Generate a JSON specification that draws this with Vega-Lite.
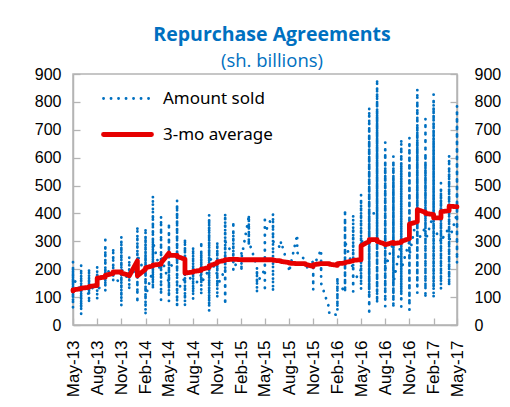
{
"$schema": "https://vega.github.io/schema/vega-lite/v6.json",
"width": 384, "height": 251,
"autosize": {"type": "pad"},
"padding": {"left": 34, "top": 25, "right": 0, "bottom": 0},
"background": "white",
"title": {"text": "Repurchase Agreements", "subtitle": "(sh. billions)", "frame": "group", "anchor": "middle", "dx": 7, "offset": -5, "color": "#0070C0", "subtitleColor": "#0070C0", "font": "Open Sans", "subtitleFont": "Open Sans", "fontSize": 19.5, "subtitleFontSize": 18.5, "fontWeight": "bold", "subtitlePadding": 6},
"config": {
 "view": {"stroke": "#b4b4b4", "strokeWidth": 1.5},
 "axis": {"labelFont": "Liberation Sans", "labelFontSize": 16, "labelColor": "#000000", "tickColor": "#b4b4b4", "domainColor": "#b4b4b4", "tickWidth": 1.3, "domainWidth": 1.5, "grid": false, "title": null, "tickSize": -7, "labelOverlap": false},
 "axisX": {"labelOverlap": false, "labelFontSize": 17, "labelBound": false}
},
"datasets": {
"sold": [
{"date":"2013-05-01","value":150},{"date":"2013-05-01","value":228},{"date":"2013-05-01","value":60},{"date":"2013-05-01","value":200},{"date":"2013-05-01","value":90},{"date":"2013-05-01","value":170},
{"date":"2013-06-01","value":120},{"date":"2013-06-01","value":216},{"date":"2013-06-01","value":36},{"date":"2013-06-01","value":180},{"date":"2013-06-01","value":60},{"date":"2013-06-01","value":140},
{"date":"2013-07-01","value":110},{"date":"2013-07-01","value":204},{"date":"2013-07-01","value":78},{"date":"2013-07-01","value":180},{"date":"2013-07-01","value":120},
{"date":"2013-08-01","value":150},{"date":"2013-08-01","value":212},{"date":"2013-08-01","value":90},{"date":"2013-08-01","value":190},{"date":"2013-08-01","value":130},
{"date":"2013-09-01","value":140},{"date":"2013-09-01","value":318},{"date":"2013-09-01","value":120},{"date":"2013-09-01","value":280},{"date":"2013-09-01","value":150},{"date":"2013-09-01","value":200},
{"date":"2013-10-01","value":180},{"date":"2013-10-01","value":276},{"date":"2013-10-01","value":156},{"date":"2013-10-01","value":250},{"date":"2013-10-01","value":170},
{"date":"2013-11-01","value":150},{"date":"2013-11-01","value":318},{"date":"2013-11-01","value":66},{"date":"2013-11-01","value":300},{"date":"2013-11-01","value":90},{"date":"2013-11-01","value":200},
{"date":"2013-12-01","value":160},{"date":"2013-12-01","value":246},{"date":"2013-12-01","value":126},{"date":"2013-12-01","value":220},{"date":"2013-12-01","value":180},
{"date":"2014-01-01","value":200},{"date":"2014-01-01","value":354},{"date":"2014-01-01","value":78},{"date":"2014-01-01","value":320},{"date":"2014-01-01","value":110},{"date":"2014-01-01","value":250},
{"date":"2014-02-01","value":180},{"date":"2014-02-01","value":348},{"date":"2014-02-01","value":36},{"date":"2014-02-01","value":320},{"date":"2014-02-01","value":60},{"date":"2014-02-01","value":250},{"date":"2014-02-01","value":100},
{"date":"2014-03-01","value":200},{"date":"2014-03-01","value":464},{"date":"2014-03-01","value":126},{"date":"2014-03-01","value":400},{"date":"2014-03-01","value":150},{"date":"2014-03-01","value":300},
{"date":"2014-04-01","value":180},{"date":"2014-04-01","value":390},{"date":"2014-04-01","value":90},{"date":"2014-04-01","value":360},{"date":"2014-04-01","value":110},{"date":"2014-04-01","value":250},
{"date":"2014-05-01","value":150},{"date":"2014-05-01","value":366},{"date":"2014-05-01","value":84},{"date":"2014-05-01","value":330},{"date":"2014-05-01","value":120},{"date":"2014-05-01","value":220},
{"date":"2014-06-01","value":200},{"date":"2014-06-01","value":448},{"date":"2014-06-01","value":60},{"date":"2014-06-01","value":430},{"date":"2014-06-01","value":80},{"date":"2014-06-01","value":300},{"date":"2014-06-01","value":120},
{"date":"2014-07-01","value":170},{"date":"2014-07-01","value":312},{"date":"2014-07-01","value":66},{"date":"2014-07-01","value":290},{"date":"2014-07-01","value":90},{"date":"2014-07-01","value":200},
{"date":"2014-08-01","value":150},{"date":"2014-08-01","value":282},{"date":"2014-08-01","value":90},{"date":"2014-08-01","value":260},{"date":"2014-08-01","value":130},
{"date":"2014-09-01","value":180},{"date":"2014-09-01","value":300},{"date":"2014-09-01","value":108},{"date":"2014-09-01","value":260},{"date":"2014-09-01","value":150},
{"date":"2014-10-01","value":200},{"date":"2014-10-01","value":396},{"date":"2014-10-01","value":48},{"date":"2014-10-01","value":380},{"date":"2014-10-01","value":70},{"date":"2014-10-01","value":250},
{"date":"2014-11-01","value":180},{"date":"2014-11-01","value":300},{"date":"2014-11-01","value":96},{"date":"2014-11-01","value":280},{"date":"2014-11-01","value":140},
{"date":"2014-12-01","value":200},{"date":"2014-12-01","value":402},{"date":"2014-12-01","value":72},{"date":"2014-12-01","value":380},{"date":"2014-12-01","value":100},{"date":"2014-12-01","value":300},
{"date":"2015-01-01","value":250},{"date":"2015-01-01","value":372},{"date":"2015-01-01","value":186},{"date":"2015-01-01","value":340},{"date":"2015-01-01","value":220},
{"date":"2015-02-01","value":205},{"date":"2015-02-01","value":259},{"date":"2015-02-01","value":198},{"date":"2015-02-01","value":240},
{"date":"2015-03-01","value":390},{"date":"2015-03-01","value":282},{"date":"2015-03-01","value":396},{"date":"2015-03-01","value":300},
{"date":"2015-04-01","value":210},{"date":"2015-04-01","value":115},{"date":"2015-04-01","value":200},{"date":"2015-04-01","value":150},
{"date":"2015-05-01","value":200},{"date":"2015-05-01","value":390},{"date":"2015-05-01","value":120},{"date":"2015-05-01","value":330},
{"date":"2015-06-01","value":396},{"date":"2015-06-01","value":120},{"date":"2015-06-01","value":380},{"date":"2015-06-01","value":300},
{"date":"2015-07-01","value":276},{"date":"2015-07-01","value":300},
{"date":"2015-08-01","value":200},{"date":"2015-08-01","value":190},
{"date":"2015-09-01","value":324},{"date":"2015-09-01","value":288},{"date":"2015-09-01","value":260},
{"date":"2015-10-01","value":234},{"date":"2015-10-01","value":200},
{"date":"2015-11-01","value":228},{"date":"2015-11-01","value":126},{"date":"2015-11-01","value":208},
{"date":"2015-12-01","value":270},{"date":"2015-12-01","value":187},{"date":"2015-12-01","value":240},{"date":"2015-12-01","value":150},
{"date":"2016-01-01","value":60},{"date":"2016-01-01","value":40},
{"date":"2016-02-01","value":36},{"date":"2016-02-01","value":174},{"date":"2016-02-01","value":60},{"date":"2016-02-01","value":150},
{"date":"2016-03-01","value":120},{"date":"2016-03-01","value":414},{"date":"2016-03-01","value":114},{"date":"2016-03-01","value":380},{"date":"2016-03-01","value":150},{"date":"2016-03-01","value":300},
{"date":"2016-04-01","value":200},{"date":"2016-04-01","value":396},{"date":"2016-04-01","value":120},{"date":"2016-04-01","value":350},{"date":"2016-04-01","value":150},
{"date":"2016-05-01","value":200},{"date":"2016-05-01","value":468},{"date":"2016-05-01","value":126},{"date":"2016-05-01","value":440},{"date":"2016-05-01","value":150},{"date":"2016-05-01","value":300},
{"date":"2016-06-01","value":300},{"date":"2016-06-01","value":780},{"date":"2016-06-01","value":36},{"date":"2016-06-01","value":750},{"date":"2016-06-01","value":66},{"date":"2016-06-01","value":700},{"date":"2016-06-01","value":100},{"date":"2016-06-01","value":680},{"date":"2016-06-01","value":130},{"date":"2016-06-01","value":400},
{"date":"2016-07-01","value":400},{"date":"2016-07-01","value":882},{"date":"2016-07-01","value":79},{"date":"2016-07-01","value":850},{"date":"2016-07-01","value":90},{"date":"2016-07-01","value":800},{"date":"2016-07-01","value":120},{"date":"2016-07-01","value":760},{"date":"2016-07-01","value":300},
{"date":"2016-08-01","value":300},{"date":"2016-08-01","value":655},{"date":"2016-08-01","value":66},{"date":"2016-08-01","value":620},{"date":"2016-08-01","value":100},{"date":"2016-08-01","value":580},{"date":"2016-08-01","value":130},{"date":"2016-08-01","value":560},{"date":"2016-08-01","value":200},
{"date":"2016-09-01","value":300},{"date":"2016-09-01","value":606},{"date":"2016-09-01","value":60},{"date":"2016-09-01","value":580},{"date":"2016-09-01","value":90},{"date":"2016-09-01","value":550},{"date":"2016-09-01","value":110},{"date":"2016-09-01","value":520},{"date":"2016-09-01","value":150},
{"date":"2016-10-01","value":300},{"date":"2016-10-01","value":666},{"date":"2016-10-01","value":66},{"date":"2016-10-01","value":640},{"date":"2016-10-01","value":90},{"date":"2016-10-01","value":600},{"date":"2016-10-01","value":120},{"date":"2016-10-01","value":560},{"date":"2016-10-01","value":200},
{"date":"2016-11-01","value":300},{"date":"2016-11-01","value":672},{"date":"2016-11-01","value":42},{"date":"2016-11-01","value":650},{"date":"2016-11-01","value":70},{"date":"2016-11-01","value":620},{"date":"2016-11-01","value":100},{"date":"2016-11-01","value":580},{"date":"2016-11-01","value":250},
{"date":"2016-12-01","value":400},{"date":"2016-12-01","value":846},{"date":"2016-12-01","value":114},{"date":"2016-12-01","value":800},{"date":"2016-12-01","value":140},{"date":"2016-12-01","value":700},{"date":"2016-12-01","value":160},{"date":"2016-12-01","value":650},{"date":"2016-12-01","value":300},
{"date":"2017-01-01","value":350},{"date":"2017-01-01","value":740},{"date":"2017-01-01","value":400},{"date":"2017-01-01","value":612},{"date":"2017-01-01","value":96},{"date":"2017-01-01","value":580},{"date":"2017-01-01","value":130},{"date":"2017-01-01","value":550},{"date":"2017-01-01","value":300},
{"date":"2017-02-01","value":400},{"date":"2017-02-01","value":828},{"date":"2017-02-01","value":96},{"date":"2017-02-01","value":790},{"date":"2017-02-01","value":130},{"date":"2017-02-01","value":700},{"date":"2017-02-01","value":150},{"date":"2017-02-01","value":650},{"date":"2017-02-01","value":350},
{"date":"2017-03-01","value":300},{"date":"2017-03-01","value":510},{"date":"2017-03-01","value":126},{"date":"2017-03-01","value":480},{"date":"2017-03-01","value":150},{"date":"2017-03-01","value":450},{"date":"2017-03-01","value":300},
{"date":"2017-04-01","value":350},{"date":"2017-04-01","value":618},{"date":"2017-04-01","value":138},{"date":"2017-04-01","value":600},{"date":"2017-04-01","value":160},{"date":"2017-04-01","value":550},{"date":"2017-04-01","value":300},
{"date":"2017-05-01","value":400},{"date":"2017-05-01","value":786},{"date":"2017-05-01","value":222},{"date":"2017-05-01","value":750},{"date":"2017-05-01","value":250},{"date":"2017-05-01","value":500}
],
"avg": [
{"date":"2013-05-01","value":122},{"date":"2013-05-01","value":126},
{"date":"2013-06-01","value":130},{"date":"2013-06-01","value":132},
{"date":"2013-07-01","value":135},{"date":"2013-07-01","value":138},
{"date":"2013-08-01","value":142},{"date":"2013-08-01","value":168},
{"date":"2013-09-01","value":172},{"date":"2013-09-01","value":178},
{"date":"2013-10-01","value":185},{"date":"2013-10-01","value":190},
{"date":"2013-11-01","value":190},{"date":"2013-11-01","value":186},
{"date":"2013-12-01","value":178},{"date":"2013-12-01","value":176},
{"date":"2014-01-01","value":230},{"date":"2014-01-01","value":176},
{"date":"2014-02-01","value":200},{"date":"2014-02-01","value":205},
{"date":"2014-03-01","value":212},{"date":"2014-03-01","value":215},
{"date":"2014-04-01","value":218},{"date":"2014-04-01","value":222},
{"date":"2014-05-01","value":258},{"date":"2014-05-01","value":250},
{"date":"2014-06-01","value":250},{"date":"2014-06-01","value":246},
{"date":"2014-07-01","value":236},{"date":"2014-07-01","value":186},
{"date":"2014-08-01","value":190},{"date":"2014-08-01","value":192},
{"date":"2014-09-01","value":196},{"date":"2014-09-01","value":200},
{"date":"2014-10-01","value":206},{"date":"2014-10-01","value":212},
{"date":"2014-11-01","value":222},{"date":"2014-11-01","value":226},
{"date":"2014-12-01","value":232},{"date":"2014-12-01","value":234},
{"date":"2015-01-01","value":236},{"date":"2015-01-01","value":236},
{"date":"2015-02-01","value":234},{"date":"2015-02-01","value":234},
{"date":"2015-03-01","value":234},{"date":"2015-03-01","value":234},
{"date":"2015-04-01","value":234},{"date":"2015-04-01","value":234},
{"date":"2015-05-01","value":234},{"date":"2015-05-01","value":234},
{"date":"2015-06-01","value":234},{"date":"2015-06-01","value":232},
{"date":"2015-07-01","value":230},{"date":"2015-07-01","value":228},
{"date":"2015-08-01","value":224},{"date":"2015-08-01","value":222},
{"date":"2015-09-01","value":220},{"date":"2015-09-01","value":220},
{"date":"2015-10-01","value":220},{"date":"2015-10-01","value":218},
{"date":"2015-11-01","value":210},{"date":"2015-11-01","value":216},
{"date":"2015-12-01","value":220},{"date":"2015-12-01","value":220},
{"date":"2016-01-01","value":220},{"date":"2016-01-01","value":218},
{"date":"2016-02-01","value":214},{"date":"2016-02-01","value":220},
{"date":"2016-03-01","value":222},{"date":"2016-03-01","value":224},
{"date":"2016-04-01","value":230},{"date":"2016-04-01","value":232},
{"date":"2016-05-01","value":234},{"date":"2016-05-01","value":284},
{"date":"2016-06-01","value":300},{"date":"2016-06-01","value":306},
{"date":"2016-07-01","value":306},{"date":"2016-07-01","value":300},
{"date":"2016-08-01","value":290},{"date":"2016-08-01","value":288},
{"date":"2016-09-01","value":296},{"date":"2016-09-01","value":292},
{"date":"2016-10-01","value":296},{"date":"2016-10-01","value":300},
{"date":"2016-11-01","value":310},{"date":"2016-11-01","value":362},
{"date":"2016-12-01","value":370},{"date":"2016-12-01","value":414},
{"date":"2017-01-01","value":404},{"date":"2017-01-01","value":400},
{"date":"2017-02-01","value":396},{"date":"2017-02-01","value":384},
{"date":"2017-03-01","value":384},{"date":"2017-03-01","value":406},
{"date":"2017-04-01","value":410},{"date":"2017-04-01","value":426},
{"date":"2017-05-01","value":424},{"date":"2017-05-01","value":424}
]
},
"layer": [
{
 "data": {"name": "sold"},
 "mark": {"type": "line", "strokeCap": "round", "strokeJoin": "round"},
 "encoding": {
  "x": {"field": "date", "type": "temporal",
        "scale": {"domain": [{"year": 2013, "month": 5, "date": 1}, {"year": 2017, "month": 5, "date": 1}], "nice": false},
        "axis": {"values": [{"year":2013,"month":5,"date":1},{"year":2013,"month":8,"date":1},{"year":2013,"month":11,"date":1},{"year":2014,"month":2,"date":1},{"year":2014,"month":5,"date":1},{"year":2014,"month":8,"date":1},{"year":2014,"month":11,"date":1},{"year":2015,"month":2,"date":1},{"year":2015,"month":5,"date":1},{"year":2015,"month":8,"date":1},{"year":2015,"month":11,"date":1},{"year":2016,"month":2,"date":1},{"year":2016,"month":5,"date":1},{"year":2016,"month":8,"date":1},{"year":2016,"month":11,"date":1},{"year":2017,"month":2,"date":1},{"year":2017,"month":5,"date":1}],
                 "format": "%b-%y", "labelAngle": -90, "labelPadding": 22, "labelFlush": false, "labelOverlap": false}},
  "y": {"field": "value", "type": "quantitative", "scale": {"domain": [0, 900], "nice": false},
        "axis": {"orient": "left", "values": [0,100,200,300,400,500,600,700,800,900], "labelPadding": 19}},
  "order": {"value": null},
  "color": {"datum": "Amount sold", "type": "nominal",
            "scale": {"domain": ["Amount sold", "3-mo average"], "range": ["#0070C0", "#E60000"]},
            "legend": {"orient": "none", "legendX": 28, "legendY": -1, "title": null, "symbolType": "stroke", "symbolSize": 2304, "labelFont": "Noto Sans", "labelFontSize": 17, "labelColor": "#000000", "labelOffset": 9, "rowPadding": 1, "padding": 0,
                       "encode": {"symbols": {"update": {"strokeCap": {"value": "round"}}}}}},
  "strokeDash": {"datum": "Amount sold", "type": "nominal",
            "scale": {"domain": ["Amount sold", "3-mo average"], "range": [[0.1, 7.4], [1, 0]]}},
  "strokeWidth": {"datum": "Amount sold", "type": "nominal",
            "scale": {"domain": ["Amount sold", "3-mo average"], "range": [2.8, 4.8]}}
 }
},
{
 "data": {"name": "avg"},
 "mark": {"type": "line", "strokeCap": "round", "strokeJoin": "round"},
 "encoding": {
  "x": {"field": "date", "type": "temporal",
        "axis": {"values": [{"year":2013,"month":5,"date":1},{"year":2013,"month":8,"date":1},{"year":2013,"month":11,"date":1},{"year":2014,"month":2,"date":1},{"year":2014,"month":5,"date":1},{"year":2014,"month":8,"date":1},{"year":2014,"month":11,"date":1},{"year":2015,"month":2,"date":1},{"year":2015,"month":5,"date":1},{"year":2015,"month":8,"date":1},{"year":2015,"month":11,"date":1},{"year":2016,"month":2,"date":1},{"year":2016,"month":5,"date":1},{"year":2016,"month":8,"date":1},{"year":2016,"month":11,"date":1},{"year":2017,"month":2,"date":1},{"year":2017,"month":5,"date":1}],
                 "format": "%b-%y", "labelAngle": -90, "labelPadding": 22, "labelFlush": false, "labelOverlap": false}},
  "y": {"field": "value", "type": "quantitative",
        "axis": {"orient": "right", "values": [0,100,200,300,400,500,600,700,800,900], "labelPadding": 24}},
  "order": {"value": null},
  "color": {"datum": "3-mo average", "type": "nominal"},
  "strokeDash": {"datum": "3-mo average", "type": "nominal"},
  "strokeWidth": {"datum": "3-mo average", "type": "nominal"}
 }
}
],
"resolve": {"axis": {"y": "independent"}}
}
